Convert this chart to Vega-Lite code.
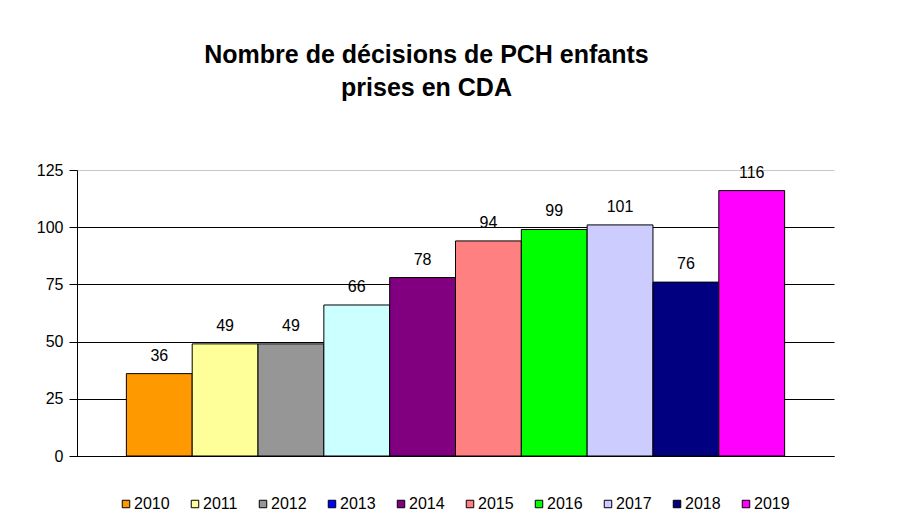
{
  "$schema": "https://vega.github.io/schema/vega-lite/v6.json",
  "width": 757,
  "height": 286,
  "autosize": "none",
  "padding": {"left": 77, "top": 170, "right": 77, "bottom": 56},
  "background": "white",
  "title": {
    "text": ["Nombre de décisions de PCH enfants", "prises en CDA"],
    "font": "Liberation Sans",
    "fontSize": 25,
    "fontWeight": "bold",
    "color": "black",
    "anchor": "middle",
    "frame": "group",
    "dx": -29,
    "lineHeight": 33,
    "offset": 61
  },
  "data": {
    "values": [
      {"annee": "2010", "n": 36},
      {"annee": "2011", "n": 49},
      {"annee": "2012", "n": 49},
      {"annee": "2013", "n": 66},
      {"annee": "2014", "n": 78},
      {"annee": "2015", "n": 94},
      {"annee": "2016", "n": 99},
      {"annee": "2017", "n": 101},
      {"annee": "2018", "n": 76},
      {"annee": "2019", "n": 116}
    ]
  },
  "encoding": {
    "x": {
      "field": "annee",
      "type": "nominal",
      "sort": null,
      "scale": {"paddingInner": 0, "paddingOuter": 0.75},
      "axis": {"title": null, "labels": false, "ticks": false, "domainColor": "black", "domainWidth": 1, "grid": false}
    }
  },
  "layer": [
    {
      "mark": {"type": "point", "shape": "square", "filled": true, "size": 64, "stroke": "black", "strokeWidth": 1, "opacity": 1},
      "encoding": {
        "y": {"datum": 10, "type": "quantitative"},
        "color": {
          "field": "annee",
          "type": "nominal",
          "scale": {
            "domain": ["2010", "2011", "2012", "2013", "2014", "2015", "2016", "2017", "2018", "2019"],
            "range": ["#FF9900", "#FFFF99", "#969696", "#0000FF", "#800080", "#FF8080", "#00FF00", "#CCCCFF", "#000080", "#FF00FF"]
          },
          "legend": {
            "title": null,
            "orient": "none",
            "direction": "horizontal",
            "legendX": 41,
            "legendY": 326,
            "symbolType": "square",
            "symbolSize": 56,
            "symbolStrokeColor": "black",
            "symbolStrokeWidth": 1,
            "labelFont": "Liberation Sans",
            "labelFontSize": 16,
            "labelColor": "black",
            "labelOffset": 0,
            "columnPadding": 17
          }
        }
      }
    },
    {
      "mark": {"type": "bar", "stroke": "black", "strokeWidth": 1},
      "encoding": {
        "y": {
          "field": "n",
          "type": "quantitative",
          "scale": {"domain": [0, 125], "nice": false},
          "axis": {
            "title": null,
            "values": [0, 25, 50, 75, 100, 125],
            "labelFont": "Liberation Sans",
            "labelFontSize": 16,
            "labelColor": "black",
            "labelPadding": 6,
            "tickColor": "black",
            "tickSize": 8,
            "domainColor": "black",
            "grid": true,
            "gridColor": {"condition": {"test": "datum.value === 125", "value": "#c8c8c8"}, "value": "black"},
            "gridWidth": 1
          }
        },
        "fill": {
          "field": "annee",
          "type": "nominal",
          "scale": {
            "domain": ["2010", "2011", "2012", "2013", "2014", "2015", "2016", "2017", "2018", "2019"],
            "range": ["#FF9900", "#FFFF99", "#969696", "#CCFFFF", "#800080", "#FF8080", "#00FF00", "#CCCCFF", "#000080", "#FF00FF"]
          },
          "legend": null
        }
      }
    },
    {
      "mark": {"type": "text", "font": "Liberation Sans", "fontSize": 16, "color": "black", "baseline": "alphabetic", "dy": -13},
      "encoding": {
        "y": {"field": "n", "type": "quantitative"},
        "text": {"field": "n", "type": "quantitative"}
      }
    }
  ],
  "config": {
    "view": {"stroke": null}
  }
}
